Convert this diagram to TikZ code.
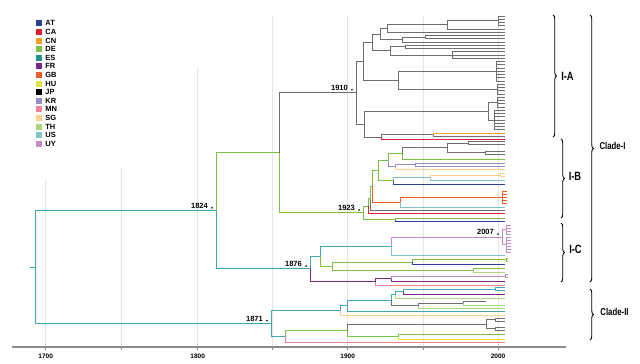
\documentclass[tikz,border=0pt]{standalone}
\usepackage{fontspec}
\setmainfont{Liberation Sans}
\newfontfamily\narrowFont[FakeStretch=0.78]{Liberation Sans}
\usetikzlibrary{calc,positioning,decorations.pathreplacing}
\definecolor{atBlue}{RGB}{46,64,148}
\definecolor{caRed}{RGB}{226,30,55}
\definecolor{cnOrange}{RGB}{245,160,30}
\definecolor{deGreen}{RGB}{124,193,66}
\definecolor{esTeal}{RGB}{32,146,145}
\definecolor{frPurple}{RGB}{120,40,140}
\definecolor{gbOrange}{RGB}{242,90,40}
\definecolor{huYellow}{RGB}{228,228,60}
\definecolor{jpBlack}{RGB}{0,0,0}
\definecolor{krLavender}{RGB}{152,140,200}
\definecolor{mnPink}{RGB}{238,130,150}
\definecolor{sgPeach}{RGB}{252,208,140}
\definecolor{thGreen}{RGB}{172,215,125}
\definecolor{usTeal}{RGB}{128,196,200}
\definecolor{uyMauve}{RGB}{198,138,198}
\definecolor{jpGray}{RGB}{110,110,110}
\definecolor{rootTeal}{RGB}{66,168,176}

\tikzset{
  edge/.style={line width=1pt},
  gridLine/.style={draw=black!10,line width=0.8pt},
  axisLine/.style={draw=black!45,line width=1.2pt},
  axisLbl/.style={font=\fontsize{6.5}{7}\selectfont\bfseries,inner sep=0pt},
  dateLbl/.style={font=\fontsize{7.5}{8}\selectfont\bfseries,inner sep=0pt,anchor=base east},
  legendKey/.style={minimum size=6pt,inner sep=0pt},
  legendTxt/.style={font=\fontsize{7.5}{8}\selectfont\bfseries,inner sep=0pt,anchor=west},
  cladeBrace/.style={decorate,decoration={brace,amplitude=3.5pt},line width=0.9pt},
  cladeLbl/.style={font=\narrowFont\fontsize{10}{11}\selectfont\bfseries,inner sep=0pt},
  subLbl/.style={font=\narrowFont\fontsize{12}{13}\selectfont\bfseries,inner sep=0pt},
}

% parent to child, elbow as in a rectangular tree
\newcommand{\treeLink}[3]{\draw[edge,#3] (#1) |- (#2);}
\newcommand{\treeLeaf}[3]{\draw[edge,#3] (#1) |- (505,#2);}
\newcommand{\treeLeafTo}[4]{\draw[edge,#4] (#1) |- (#3,#2);}
% node, first tip y, step, count, colour, tip end
\newcommand{\tipComb}[6]{\foreach \k in {1,...,#4}{\draw[edge,#5] (#1) |- (#6,{#2+(\k-1)*#3});}}

\begin{document}
\begin{tikzpicture}[x=1pt,y=-1pt]
\useasboundingbox (0,0) rectangle (640,364);

% time grid and axis
\foreach \gx/\gtop in {45.7/180,121/168,197.7/67,272.7/15,347.7/15,423/15,498/15}
  \draw[gridLine] (\gx,\gtop) -- (\gx,347);
\draw[axisLine] (12,347) -- (566,347);
\foreach \gx in {45.7,121,197.7,272.7,347.7,423,498}
  \draw[draw=black!45,line width=0.6pt] (\gx,347) -- (\gx,349.5);
\foreach \gx/\yr in {45.7/1700,197.7/1800,347.7/1900,498/2000}
  \node[axisLbl] (tick\yr) at (\gx,356) {\yr};

% legend
\foreach \ctry/\col [count=\i from 0] in {AT/atBlue,CA/caRed,CN/cnOrange,DE/deGreen,ES/esTeal,FR/frPurple,GB/gbOrange,HU/huYellow,JP/jpBlack,KR/krLavender,MN/mnPink,SG/sgPeach,TH/thGreen,US/usTeal,UY/uyMauve}{
  \node[legendKey,fill=\col] (key\ctry) at (39,{23.3+8.6*\i}) {};
  \node[legendTxt,right=3pt of key\ctry] (txt\ctry) {\ctry};
}

% backbone
\coordinate (rootStub) at (29.5,267.2);
\coordinate (root) at (35,267.2);
\coordinate (nA) at (216,210.85);
\coordinate (nB) at (279,152.8);
\coordinate (nC) at (310,268.9);
\coordinate (nD) at (356,92.7);
\coordinate (nE) at (363,212.9);
\coordinate (nF) at (271,323.5);
% I-A
\coordinate (iaOne) at (363,61.35);
\coordinate (iaTwo) at (364,124.06);
\coordinate (iaN6) at (372,42.51);
\coordinate (iaN4) at (380,34.08);
\coordinate (iaN2) at (387,28.6);
\coordinate (iaN1) at (447,24.94);
\coordinate (iaC1) at (498,20.875);
\coordinate (iaN3) at (402,39.56);
\coordinate (iaN3a) at (425,37.125);
\coordinate (iaN5) at (390,50.94);
\coordinate (iaN5a) at (405,46.875);
\coordinate (iaN5b) at (452,55);
\coordinate (iaN8) at (398,80.19);
\coordinate (iaN8a) at (496,71.25);
\coordinate (iaN8b) at (497,89.125);
\coordinate (iaC2) at (488,111.06);
\coordinate (iaC2a) at (497,102.125);
\coordinate (iaC2b) at (494,120);
\coordinate (iaOr) at (381,137.05);
\coordinate (iaCn) at (433,134.625);
% I-B
\coordinate (ibOne) at (368,206);
\coordinate (ibTwo) at (395,219.8);
\coordinate (ibA) at (370,198.5);
\coordinate (ibB) at (372,186.27);
\coordinate (ibC) at (378,170.54);
\coordinate (ibGb) at (400,202);
\coordinate (ibGbC) at (502,197);
\coordinate (ibD) at (388,160.2);
\coordinate (ibE) at (393,180.88);
\coordinate (ibDe) at (402,153.5);
\coordinate (ibJp) at (447,147.75);
\coordinate (ibJpA) at (468,143);
\coordinate (ibJpB) at (485,152.5);
\coordinate (ibKr) at (395,166.9);
\coordinate (ibKrC) at (415,164.5);
\coordinate (ibUs) at (430,177.75);
\coordinate (ibSg) at (500,175);
% I-C
\coordinate (icOne) at (320,256.1);
\coordinate (icTwo) at (375,281.75);
\coordinate (icA) at (391.7,246.25);
\coordinate (icUy) at (502,237);
\coordinate (icUyA) at (506,229.5);
\coordinate (icUyB) at (506,244.5);
\coordinate (icB) at (332.7,266);
\coordinate (icC) at (412,262);
\coordinate (icDe) at (506,259.5);
\coordinate (icD) at (473,270);
\coordinate (icFr) at (391.7,278.5);
\coordinate (icUyC) at (505,276);
% Clade-II
\coordinate (ciiOne) at (340.7,310.5);
\coordinate (ciiTwo) at (347.7,305.95);
\coordinate (ciiThree) at (391.7,300.2);
\coordinate (ciiFour) at (395,294.75);
\coordinate (ciiFourA) at (403,291.5);
\coordinate (ciiUs) at (495,289);
\coordinate (ciiJp) at (418,305.65);
\coordinate (ciiJpA) at (463,303);
\coordinate (ciiSix) at (285.7,336.5);
\coordinate (ciiSeven) at (347.7,330.3);
\coordinate (ciiJpB) at (486.7,324.25);
\coordinate (ciiJpC) at (495,319.5);
\coordinate (ciiJpD) at (495,328.5);
\coordinate (ciiEight) at (398,336.65);

\draw[edge,rootTeal] (rootStub) -- (root);
\treeLink{root}{nA}{rootTeal}
\treeLink{root}{nF}{rootTeal}
\treeLink{nA}{nB}{deGreen}
\treeLink{nA}{nC}{rootTeal}
\treeLink{nB}{nD}{jpGray}
\treeLink{nB}{nE}{deGreen}

% I-A
\treeLink{nD}{iaOne}{jpGray}
\treeLink{nD}{iaTwo}{jpGray}
\treeLink{iaOne}{iaN6}{jpGray}
\treeLink{iaOne}{iaN8}{jpGray}
\treeLink{iaN6}{iaN4}{jpGray}
\treeLink{iaN6}{iaN5}{jpGray}
\treeLink{iaN4}{iaN2}{jpGray}
\treeLink{iaN4}{iaN3}{jpGray}
\treeLink{iaN2}{iaN1}{jpGray}
\treeLeaf{iaN2}{32.25}{jpGray}
\treeLink{iaN1}{iaC1}{jpGray}
\treeLeaf{iaN1}{29}{jpGray}
\tipComb{iaC1}{16}{3.25}{4}{jpGray}{505}
\treeLink{iaN3}{iaN3a}{jpGray}
\treeLeaf{iaN3}{42}{jpGray}
\tipComb{iaN3a}{35.5}{3.25}{2}{jpGray}{505}
\treeLink{iaN5}{iaN5a}{jpGray}
\treeLink{iaN5}{iaN5b}{jpGray}
\tipComb{iaN5a}{45.25}{3.25}{2}{jpGray}{505}
\tipComb{iaN5b}{51.75}{3.25}{3}{jpGray}{505}
\treeLink{iaN8}{iaN8a}{jpGray}
\treeLink{iaN8}{iaN8b}{jpGray}
\tipComb{iaN8a}{61.5}{3.25}{7}{jpGray}{505}
\tipComb{iaN8b}{84.25}{3.25}{4}{jpGray}{505}
\treeLink{iaTwo}{iaC2}{jpGray}
\treeLink{iaTwo}{iaOr}{jpGray}
\treeLink{iaC2}{iaC2a}{jpGray}
\treeLink{iaC2}{iaC2b}{jpGray}
\tipComb{iaC2a}{97.25}{3.25}{4}{jpGray}{505}
\tipComb{iaC2b}{110.25}{3.25}{7}{jpGray}{505}
\treeLink{iaOr}{iaCn}{jpGray}
\treeLeaf{iaOr}{139.5}{caRed}
\treeLeaf{iaCn}{133}{cnOrange}
\treeLeaf{iaCn}{136.25}{jpGray}

% I-B
\treeLink{nE}{ibOne}{deGreen}
\treeLink{nE}{ibTwo}{deGreen}
\treeLeaf{ibTwo}{218.3}{deGreen}
\treeLeaf{ibTwo}{221.3}{atBlue}
\treeLink{ibOne}{ibA}{deGreen}
\treeLeaf{ibOne}{213.5}{caRed}
\treeLink{ibA}{ibB}{deGreen}
\treeLeaf{ibA}{210.7}{jpGray}
\treeLink{ibB}{ibC}{deGreen}
\treeLink{ibB}{ibGb}{gbOrange}
\treeLink{ibGb}{ibGbC}{gbOrange}
\treeLeaf{ibGb}{207}{usTeal}
\tipComb{ibGbC}{191}{3}{5}{gbOrange}{507}
\treeLink{ibC}{ibD}{deGreen}
\treeLink{ibC}{ibE}{deGreen}
\treeLink{ibD}{ibDe}{deGreen}
\treeLink{ibD}{ibKr}{krLavender}
\treeLink{ibDe}{ibJp}{jpGray}
\treeLeaf{ibDe}{159.3}{deGreen}
\treeLink{ibJp}{ibJpA}{jpGray}
\treeLink{ibJp}{ibJpB}{jpGray}
\tipComb{ibJpA}{141.5}{3}{2}{jpGray}{505}
\tipComb{ibJpB}{151}{3}{2}{jpGray}{505}
\treeLink{ibKr}{ibKrC}{krLavender}
\treeLeaf{ibKr}{169.3}{sgPeach}
\tipComb{ibKrC}{163}{3}{2}{krLavender}{505}
\treeLink{ibE}{ibUs}{usTeal}
\treeLeaf{ibE}{184}{atBlue}
\treeLink{ibUs}{ibSg}{sgPeach}
\treeLeaf{ibUs}{180.5}{usTeal}
\tipComb{ibSg}{173.5}{3}{2}{sgPeach}{505}

% I-C
\treeLink{nC}{icOne}{rootTeal}
\treeLink{nC}{icTwo}{frPurple}
\treeLink{icOne}{icA}{rootTeal}
\treeLink{icOne}{icB}{deGreen}
\treeLink{icA}{icUy}{uyMauve}
\treeLeaf{icA}{255.5}{usTeal}
\treeLink{icUy}{icUyA}{uyMauve}
\treeLink{icUy}{icUyB}{uyMauve}
\tipComb{icUyA}{225}{3}{4}{uyMauve}{511}
\tipComb{icUyB}{237}{3}{6}{uyMauve}{511}
\treeLink{icB}{icC}{deGreen}
\treeLink{icB}{icD}{deGreen}
\treeLink{icC}{icDe}{deGreen}
\treeLeaf{icC}{264.5}{atBlue}
\tipComb{icDe}{258}{3}{2}{deGreen}{508}
\treeLeaf{icD}{268}{deGreen}
\treeLeaf{icD}{272}{thGreen}
\treeLink{icTwo}{icFr}{frPurple}
\treeLeaf{icTwo}{285}{mnPink}
\treeLink{icFr}{icUyC}{uyMauve}
\treeLeaf{icFr}{281}{frPurple}
\tipComb{icUyC}{274.5}{3}{2}{uyMauve}{508}

% Clade-II
\treeLink{nF}{ciiOne}{rootTeal}
\treeLink{nF}{ciiSix}{rootTeal}
\treeLink{ciiOne}{ciiTwo}{rootTeal}
\treeLeaf{ciiOne}{315}{sgPeach}
\treeLink{ciiTwo}{ciiThree}{rootTeal}
\treeLeaf{ciiTwo}{311.7}{rootTeal}
\treeLink{ciiThree}{ciiFour}{rootTeal}
\treeLink{ciiThree}{ciiJp}{jpGray}
\treeLink{ciiFour}{ciiFourA}{rootTeal}
\treeLeaf{ciiFour}{298}{thGreen}
\treeLink{ciiFourA}{ciiUs}{rootTeal}
\treeLeaf{ciiFourA}{294}{frPurple}
\tipComb{ciiUs}{287.5}{3}{2}{rootTeal}{505}
\treeLink{ciiJp}{ciiJpA}{jpGray}
\treeLeaf{ciiJp}{308.3}{thGreen}
\treeLeafTo{ciiJpA}{301}{486}{jpGray}
\treeLeaf{ciiJpA}{305}{thGreen}
\treeLink{ciiSix}{ciiSeven}{deGreen}
\treeLeaf{ciiSix}{342.7}{mnPink}
\treeLink{ciiSeven}{ciiJpB}{jpGray}
\treeLink{ciiSeven}{ciiEight}{deGreen}
\treeLink{ciiJpB}{ciiJpC}{jpGray}
\treeLink{ciiJpB}{ciiJpD}{jpGray}
\tipComb{ciiJpC}{318}{3}{2}{jpGray}{505}
\tipComb{ciiJpD}{327}{3}{2}{jpGray}{505}
\treeLeaf{ciiEight}{334}{deGreen}
\treeLeaf{ciiEight}{339.3}{huYellow}

% node dates
\foreach \nd/\yr in {nA/1824,nD/1910,nE/1923,nC/1876,nF/1871,icUy/2007}{
  \fill ($(\nd)+(-4,-3)$) circle (0.9pt);
  \node[dateLbl] (date\yr) at ($(\nd)+(-8,-2.3)$) {\yr};
}

% clades
\draw[cladeBrace] (553,15) -- (553,137);
\draw[cladeBrace] (561,139) -- (561,218);
\draw[cladeBrace] (561,223) -- (561,282);
\draw[cladeBrace] (590,15) -- (590,282);
\draw[cladeBrace] (590,289) -- (590,340);
\node[subLbl] (lblIA) at (567.5,76) {I-A};
\node[subLbl] (lblIB) at (575,176.5) {I-B};
\node[subLbl] (lblIC) at (575.5,249) {I-C};
\node[cladeLbl] (lblCladeI) at (612.5,146) {Clade-I};
\node[cladeLbl] (lblCladeII) at (614.5,312) {Clade-II};
\end{tikzpicture}
\end{document}
